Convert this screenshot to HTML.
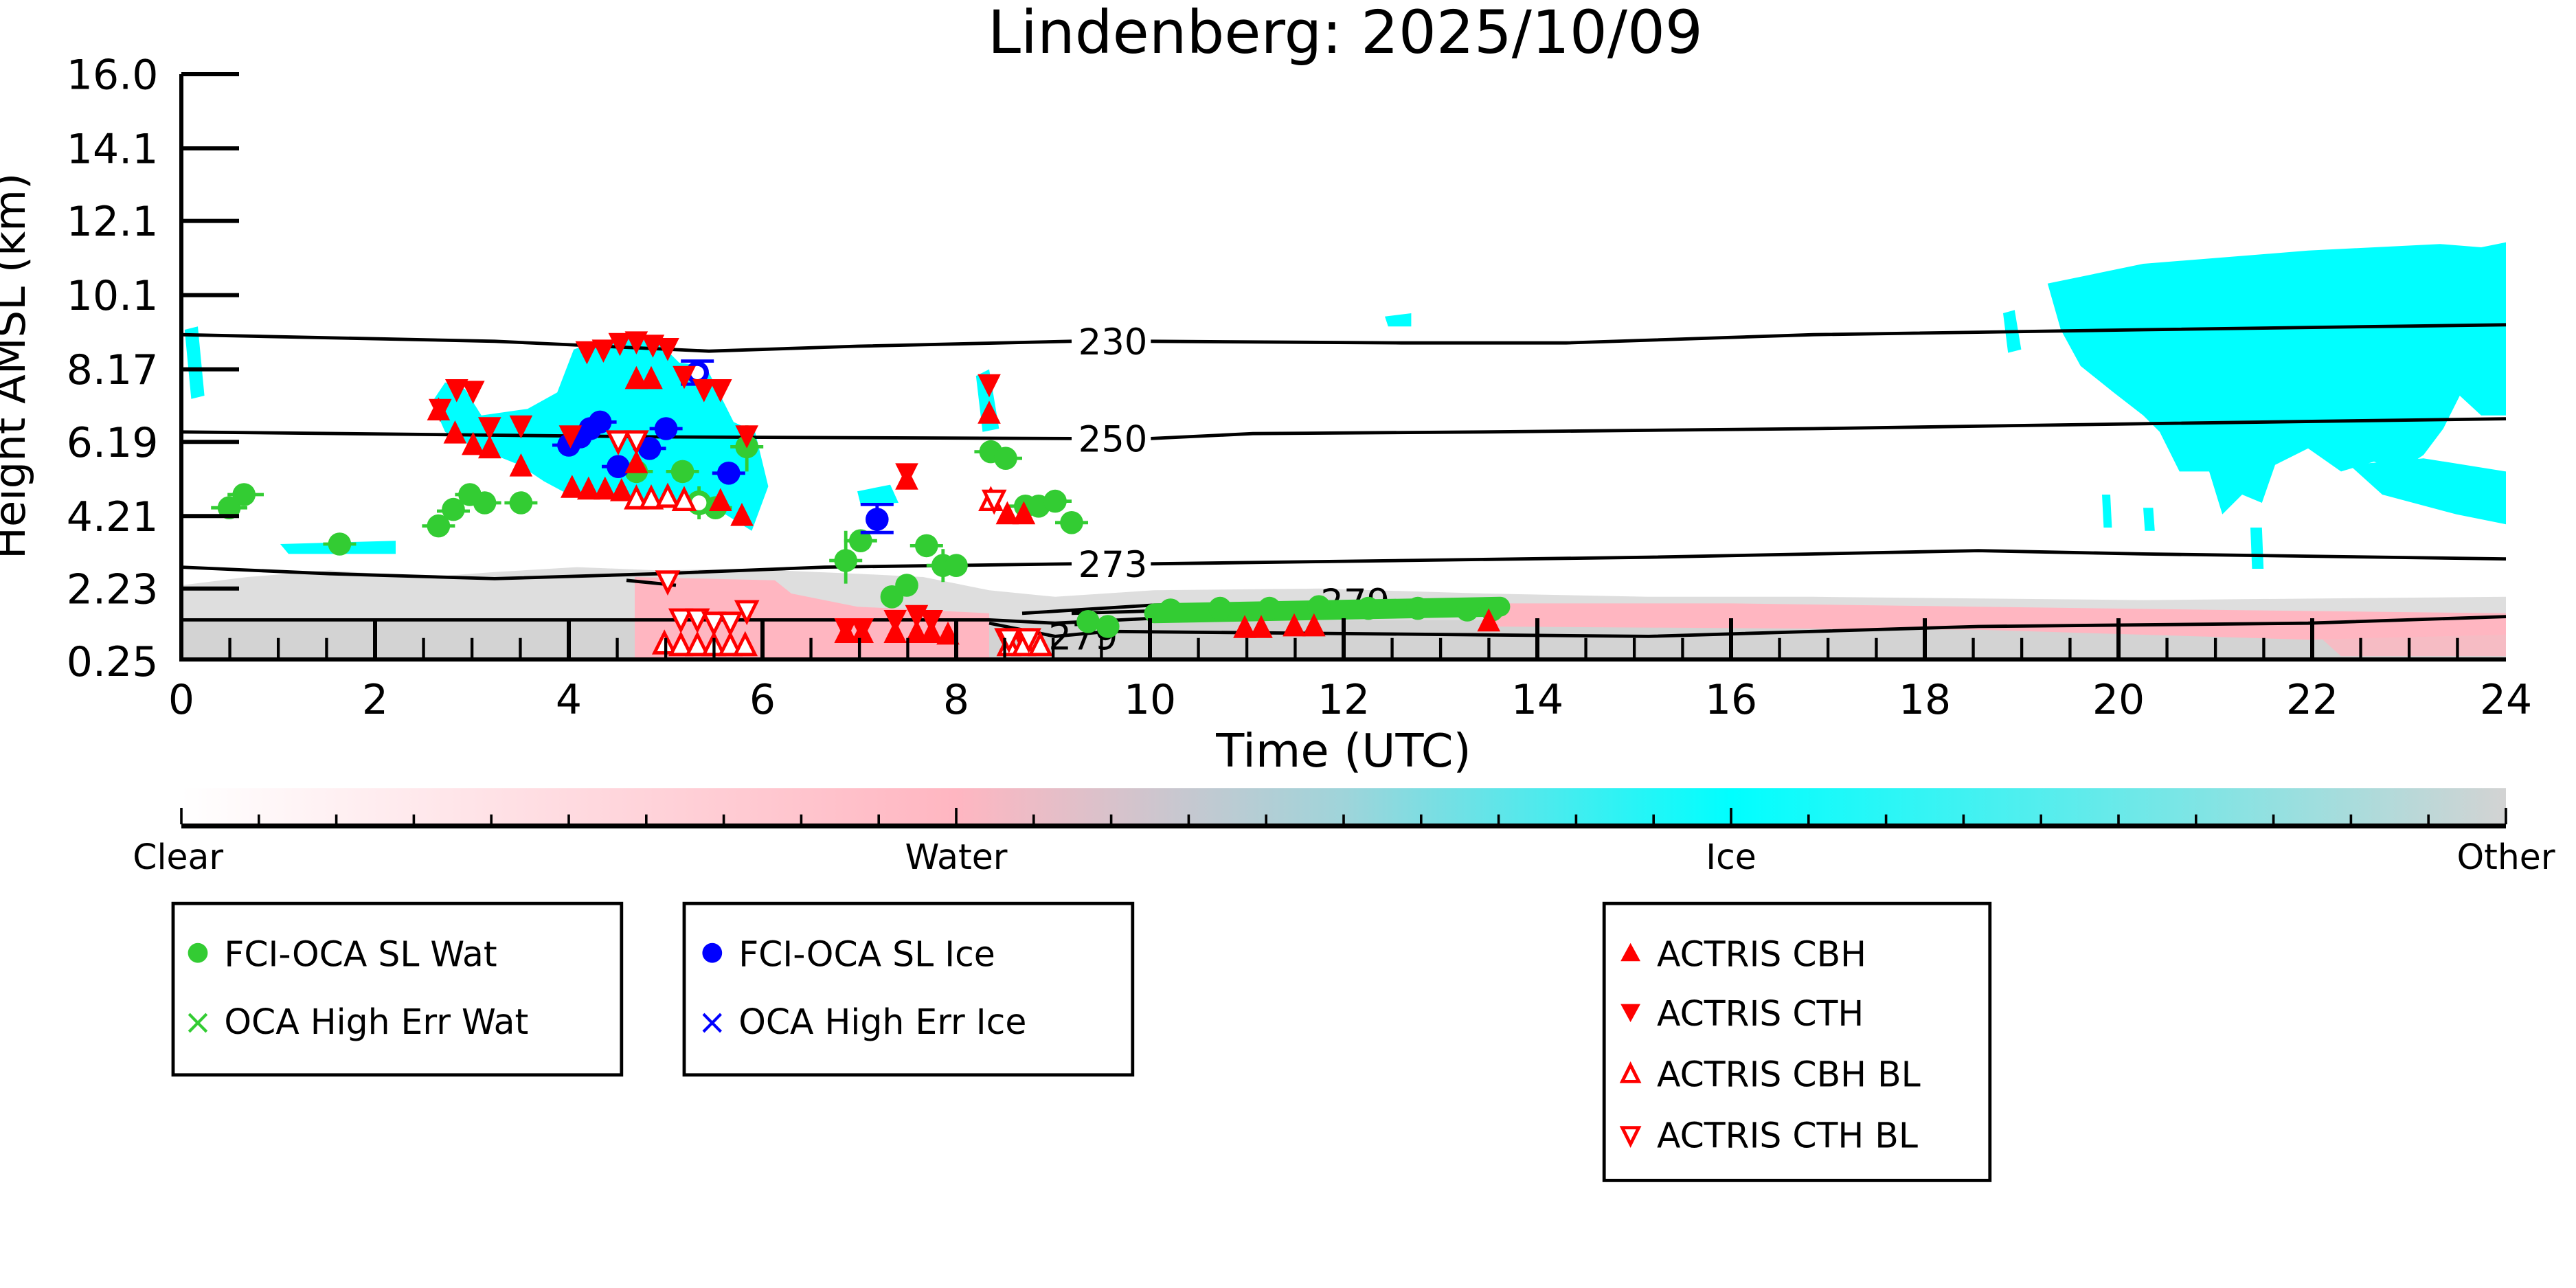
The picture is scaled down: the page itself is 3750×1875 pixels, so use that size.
<!DOCTYPE html>
<html><head><meta charset="utf-8"><style>html,body{margin:0;padding:0;background:#fff}svg{display:block}</style></head>
<body>
<svg width="3750" height="1875" viewBox="0 0 1562.5 781.25" xmlns="http://www.w3.org/2000/svg" font-family="DejaVu Sans, Liberation Sans, sans-serif">
<defs>
<linearGradient id="cb" x1="0" x2="1" y1="0" y2="0">
<stop offset="0" stop-color="#ffffff"/><stop offset="0.333" stop-color="#ffb6c1"/><stop offset="0.5" stop-color="#9fd4da"/><stop offset="0.667" stop-color="#00ffff"/><stop offset="1" stop-color="#d3d3d3"/>
</linearGradient>
<g id="gc"><circle r="7" fill="#33cc33"/></g>
<g id="bc"><circle r="7" fill="#0000ff"/></g>
<g id="up"><path d="M0,-8 L7,6 L-7,6Z" fill="#ff0000"/></g>
<g id="dn"><path d="M0,8 L7,-6 L-7,-6Z" fill="#ff0000"/></g>
<g id="uph"><path d="M0,-7 L6,5 L-6,5Z" fill="#fff" stroke="#ff0000" stroke-width="2"/></g>
<g id="dnh"><path d="M0,7 L6,-5 L-6,-5Z" fill="#fff" stroke="#ff0000" stroke-width="2"/></g>
</defs>
<text x="816" y="32" font-size="36" text-anchor="middle">Lindenberg: 2025/10/09</text>

<rect x="110" y="376" width="1410" height="24" fill="#d3d3d3"/>
<path d="M110,376 L110,355 L150,350 L200,346 L260,350 L300,347 L350,344 L400,346 L450,345 L520,348 L560,350 L600,358 L640,362 L700,358 L800,357 L900,360 L1000,362 L1100,362 L1200,363 L1300,364 L1520,362 L1520,376Z" fill="#d3d3d3" opacity="0.75"/>
<path d="M385,350 L470,352 L480,360 L520,368 L600,372 L600,400 L385,400Z" fill="#ffb6c1"/>
<path d="M900,366 L1050,366 L1200,368 L1350,370 L1520,372 L1520,385 L1400,388 L1200,382 L900,380Z" fill="#ffb6c1"/>
<path d="M1400,380 L1520,376 L1520,398 L1420,398Z" fill="#ffb6c1" opacity="0.8"/>

<g fill="#00ffff">
<path d="M262,244 L270,232 L282,236 L292,252 L320,248 L338,238 L348,212 L362,207 L382,205 L400,208 L412,220 L428,222 L445,256 L458,262 L466,295 L456,322 L440,312 L420,310 L400,306 L370,301 L345,300 L330,292 L315,282 L300,276 L285,270 L270,262Z"/>
<path d="M1242,172 L1300,160 L1400,152 L1480,148 L1505,150 L1520,147 L1520,252 L1505,252 L1492,240 L1482,260 L1470,276 L1455,286 L1440,280 L1420,286 L1400,272 L1380,282 L1372,305 L1360,300 L1348,312 L1340,286 L1322,286 L1310,262 L1300,252 L1282,238 L1262,222 L1250,200Z"/>
<path d="M1425,282 L1470,278 L1520,286 L1520,318 L1490,312 L1445,300Z"/>
<path d="M1215,190 L1222,188 L1226,212 L1218,214Z"/>
<path d="M112,200 L120,198 L124,240 L116,242Z"/>
<path d="M592,228 L600,224 L606,260 L596,262Z"/>
<path d="M840,192 L856,190 L856,198 L842,198Z"/>
<path d="M170,330 L240,328 L240,336 L175,336Z"/>
<path d="M520,298 L540,294 L545,305 L522,306Z"/>
<path d="M1275,300 L1280,300 L1281,320 L1276,320Z"/>
<path d="M1300,308 L1306,308 L1307,322 L1301,322Z"/>
<path d="M1365,320 L1372,320 L1373,345 L1366,345Z"/>
</g>

<g fill="none" stroke="#000" stroke-width="2">
<path d="M110,203 L300,207 L430,213 L520,210 L650,207"/>
<path d="M698,207 L850,208 L950,208 L1100,203 L1300,200 L1520,197"/>
<path d="M110,262 L400,265 L650,266"/>
<path d="M698,266 L760,263 L900,262 L1100,260 L1300,257 L1520,254"/>
<path d="M110,344 L200,348 L300,351 L400,348 L500,344 L650,342"/>
<path d="M698,342 L850,340 L1000,338 L1150,335 L1200,334 L1300,336 L1520,339"/>
<path d="M110,376 L600,376 L640,378 L700,375 L800,374"/>
<path d="M600,378 L640,386 L672,383 L1000,386 L1200,380 L1400,378 L1520,374"/>
<path d="M620,372 L700,367 L800,366 M650,372 L720,370"/>
<path d="M380,352 L410,355"/>
</g>
<g font-size="22" text-anchor="middle">
<rect x="650" y="196" width="48" height="22" fill="#fff"/><text x="675" y="215">230</text>
<rect x="650" y="255" width="48" height="22" fill="#fff"/><text x="675" y="274">250</text>
<rect x="650" y="331" width="48" height="22" fill="#fff"/><text x="675" y="350">273</text>
<text x="822" y="373">279</text>
<text x="657" y="394">279</text>
</g>

<g stroke="#33cc33" stroke-width="2">
<path d="M128,308h22M138,300h22M196,330h20M256,319h20M265,310h20M276,300h20M284,305h20M306,305h20M376,286h20M404,286h20M414,305h22M424,308h20M443,271h20M503,340h20M512,328h20M552,331h20M562,343h20M591,274h20M600,278h20M612,307h20M630,304h20M640,317h20"/>
<path d="M424,295v20M453,258v28M513,322v32M572,333v20"/>
</g>
<g>
<use href="#gc" x="139" y="308"/><use href="#gc" x="148" y="300"/><use href="#gc" x="206" y="330"/><use href="#gc" x="266" y="319"/><use href="#gc" x="275" y="309"/><use href="#gc" x="285" y="300"/><use href="#gc" x="294" y="305"/><use href="#gc" x="316" y="305"/><use href="#gc" x="386" y="286"/><use href="#gc" x="414" y="286"/><use href="#gc" x="434" y="308"/><use href="#gc" x="453" y="271"/><use href="#gc" x="513" y="340"/><use href="#gc" x="522" y="328"/><use href="#gc" x="541" y="362"/><use href="#gc" x="550" y="355"/><use href="#gc" x="562" y="331"/><use href="#gc" x="572" y="343"/><use href="#gc" x="580" y="343"/><use href="#gc" x="601" y="274"/><use href="#gc" x="610" y="278"/><use href="#gc" x="622" y="307"/><use href="#gc" x="630" y="307"/><use href="#gc" x="640" y="304"/><use href="#gc" x="650" y="317"/><use href="#gc" x="660" y="377"/><use href="#gc" x="672" y="380"/>
</g>
<circle cx="424" cy="305" r="6" fill="#fff" stroke="#33cc33" stroke-width="3"/>
<path d="M700,372 L910,368" stroke="#33cc33" stroke-width="12" stroke-linecap="round"/>
<g fill="#33cc33"><circle cx="710" cy="370" r="7"/><circle cx="740" cy="369" r="7"/><circle cx="770" cy="369" r="7"/><circle cx="800" cy="368" r="7"/><circle cx="830" cy="369" r="7"/><circle cx="860" cy="369" r="7"/><circle cx="890" cy="370" r="7"/><circle cx="905" cy="370" r="7"/></g>

<g stroke="#0000ff" stroke-width="2"><path d="M335,270h20M342,265h20M348,260h20M354,256h20M365,283h20M384,272h20M394,260h20M432,287h20M413,219h20M413,233h20M522,306h20M522,323h20M532,306v17"/></g>
<use href="#bc" x="345" y="270"/><use href="#bc" x="352" y="265"/><use href="#bc" x="358" y="260"/><use href="#bc" x="364" y="256"/><use href="#bc" x="375" y="283"/><use href="#bc" x="394" y="272"/><use href="#bc" x="404" y="260"/><use href="#bc" x="442" y="287"/><use href="#bc" x="532" y="315"/>
<circle cx="423" cy="226" r="5.5" fill="#fff" stroke="#0000ff" stroke-width="3"/>

<g>
<use href="#up" x="266" y="249"/><use href="#up" x="276" y="263"/><use href="#up" x="287" y="270"/><use href="#up" x="297" y="272"/><use href="#up" x="316" y="283"/><use href="#up" x="347" y="296"/><use href="#up" x="357" y="297"/><use href="#up" x="367" y="297"/><use href="#up" x="377" y="298"/><use href="#up" x="386" y="281"/><use href="#up" x="395" y="230"/><use href="#up" x="386" y="230"/><use href="#up" x="450" y="313"/><use href="#up" x="437" y="304"/><use href="#up" x="550" y="291"/><use href="#up" x="600" y="251"/><use href="#up" x="513" y="384"/><use href="#up" x="523" y="384"/><use href="#up" x="543" y="384"/><use href="#up" x="556" y="384"/><use href="#up" x="565" y="384"/><use href="#up" x="575" y="385"/><use href="#up" x="611" y="312"/><use href="#up" x="621" y="312"/><use href="#up" x="755" y="381"/><use href="#up" x="765" y="381"/><use href="#up" x="785" y="380"/><use href="#up" x="797" y="380"/><use href="#up" x="903" y="377"/>
<use href="#dn" x="267" y="248"/><use href="#dn" x="277" y="236"/><use href="#dn" x="287" y="237"/><use href="#dn" x="297" y="259"/><use href="#dn" x="316" y="258"/><use href="#dn" x="346" y="264"/><use href="#dn" x="356" y="213"/><use href="#dn" x="366" y="212"/><use href="#dn" x="376" y="208"/><use href="#dn" x="386" y="207"/><use href="#dn" x="396" y="209"/><use href="#dn" x="405" y="211"/><use href="#dn" x="415" y="228"/><use href="#dn" x="427" y="236"/><use href="#dn" x="437" y="236"/><use href="#dn" x="453" y="264"/><use href="#dn" x="550" y="287"/><use href="#dn" x="600" y="233"/><use href="#dn" x="513" y="381"/><use href="#dn" x="523" y="381"/><use href="#dn" x="543" y="376"/><use href="#dn" x="556" y="373"/><use href="#dn" x="565" y="376"/><use href="#dn" x="610" y="387"/><use href="#dn" x="620" y="387"/>
<use href="#uph" x="386" y="303"/><use href="#uph" x="395" y="303"/><use href="#uph" x="405" y="302"/><use href="#uph" x="415" y="304"/><use href="#uph" x="403" y="391"/><use href="#uph" x="413" y="392"/><use href="#uph" x="423" y="392"/><use href="#uph" x="433" y="392"/><use href="#uph" x="443" y="392"/><use href="#uph" x="452" y="392"/><use href="#uph" x="601" y="304"/><use href="#uph" x="612" y="392"/><use href="#uph" x="621" y="392"/><use href="#uph" x="631" y="392"/>
<use href="#dnh" x="375" y="267"/><use href="#dnh" x="386" y="267"/><use href="#dnh" x="405" y="352"/><use href="#dnh" x="413" y="375"/><use href="#dnh" x="423" y="375"/><use href="#dnh" x="433" y="377"/><use href="#dnh" x="443" y="377"/><use href="#dnh" x="453" y="370"/><use href="#dnh" x="603" y="303"/><use href="#dnh" x="612" y="387"/><use href="#dnh" x="624" y="387"/>
</g>

<g stroke="#000" stroke-width="2.5" fill="none">
<path d="M110,45 V400 H1520"/>
<path d="M110,45h35M110,90h35M110,134h35M110,179h35M110,224h35M110,268h35M110,313h35M110,357h35"/>
<path d="M227.5,400v-25M345,400v-25M462.5,400v-25M580,400v-25M697.5,400v-25M815,400v-25M932.5,400v-25M1050,400v-25M1167.5,400v-25M1285,400v-25M1402.5,400v-25" />
</g>
<g stroke="#000" stroke-width="1.8">
<path d="M139.4,400v-13M168.8,400v-13M198.1,400v-13M256.9,400v-13M286.3,400v-13M315.6,400v-13M374.4,400v-13M403.8,400v-13M433.1,400v-13M491.9,400v-13M521.3,400v-13M550.6,400v-13M609.4,400v-13M638.8,400v-13M668.1,400v-13M726.9,400v-13M756.3,400v-13M785.6,400v-13M844.4,400v-13M873.8,400v-13M903.1,400v-13M961.9,400v-13M991.3,400v-13M1020.6,400v-13M1079.4,400v-13M1108.8,400v-13M1138.1,400v-13M1196.9,400v-13M1226.3,400v-13M1255.6,400v-13M1314.4,400v-13M1343.8,400v-13M1373.1,400v-13M1431.9,400v-13M1461.3,400v-13M1490.6,400v-13"/>
</g>
<g font-size="25" text-anchor="end">
<text x="96" y="54">16.0</text><text x="96" y="99">14.1</text><text x="96" y="143">12.1</text><text x="96" y="188">10.1</text><text x="96" y="233">8.17</text><text x="96" y="277">6.19</text><text x="96" y="322">4.21</text><text x="96" y="366">2.23</text><text x="96" y="410">0.25</text>
</g>
<g font-size="25" text-anchor="middle">
<text x="110" y="433">0</text><text x="227.5" y="433">2</text><text x="345" y="433">4</text><text x="462.5" y="433">6</text><text x="580" y="433">8</text><text x="697.5" y="433">10</text><text x="815" y="433">12</text><text x="932.5" y="433">14</text><text x="1050" y="433">16</text><text x="1167.5" y="433">18</text><text x="1285" y="433">20</text><text x="1402.5" y="433">22</text><text x="1520" y="433">24</text>
</g>
<text x="815" y="465" font-size="28" text-anchor="middle">Time (UTC)</text>
<text transform="translate(15,222) rotate(-90)" font-size="26" text-anchor="middle">Height AMSL (km)</text>

<rect x="110" y="478" width="1410" height="22" fill="url(#cb)"/>
<path d="M110,501H1520" stroke="#000" stroke-width="3"/>
<g stroke="#000" stroke-width="1.5"><path d="M110,500v-10M580,500v-10M1050,500v-10M1520,500v-10M157,500v-6M204,500v-6M251,500v-6M298,500v-6M345,500v-6M392,500v-6M439,500v-6M486,500v-6M533,500v-6M627,500v-6M674,500v-6M721,500v-6M768,500v-6M815,500v-6M862,500v-6M909,500v-6M956,500v-6M1003,500v-6M1097,500v-6M1144,500v-6M1191,500v-6M1238,500v-6M1285,500v-6M1332,500v-6M1379,500v-6M1426,500v-6M1473,500v-6"/></g>
<g font-size="21" text-anchor="middle"><text x="108" y="527">Clear</text><text x="580" y="527">Water</text><text x="1050" y="527">Ice</text><text x="1520" y="527">Other</text></g>

<g fill="none" stroke="#000" stroke-width="2"><rect x="105" y="548" width="272" height="104"/><rect x="415" y="548" width="272" height="104"/><rect x="973" y="548" width="234" height="168"/></g>
<g font-size="21">
<circle cx="120" cy="578" r="6" fill="#33cc33"/><text x="136" y="586">FCI-OCA SL Wat</text>
<text x="120" y="627" fill="#33cc33" text-anchor="middle">×</text><text x="136" y="627">OCA High Err Wat</text>
<circle cx="432" cy="578" r="6" fill="#0000ff"/><text x="448" y="586">FCI-OCA SL Ice</text>
<text x="432" y="627" fill="#0000ff" text-anchor="middle">×</text><text x="448" y="627">OCA High Err Ice</text>
<path d="M989,572 L995,583 L983,583Z" fill="#ff0000"/><text x="1005" y="586">ACTRIS CBH</text>
<path d="M989,620 L995,609 L983,609Z" fill="#ff0000"/><text x="1005" y="622">ACTRIS CTH</text>
<path d="M989,646 L994,656 L984,656Z" fill="#fff" stroke="#ff0000" stroke-width="2"/><text x="1005" y="659">ACTRIS CBH BL</text>
<path d="M989,694 L994,684 L984,684Z" fill="#fff" stroke="#ff0000" stroke-width="2"/><text x="1005" y="696">ACTRIS CTH BL</text>
</g>
</svg>
</body></html>
